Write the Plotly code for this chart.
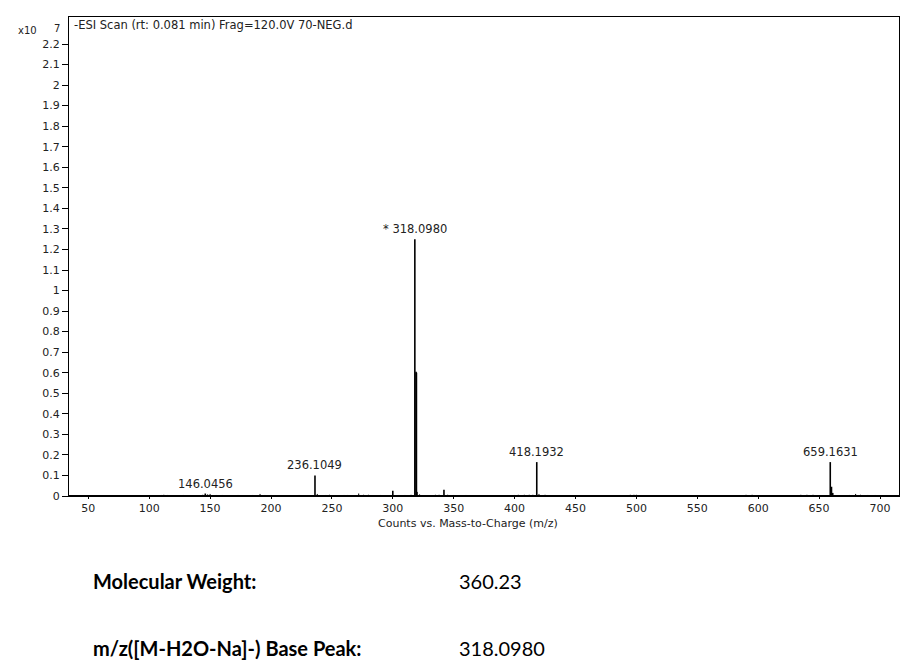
import plotly.graph_objects as go

# ---- data (m/z, intensity in units of 1e7 counts) ----
major_mz = [146.0456, 236.1049, 318.0980, 319.10, 319.4, 418.1932, 659.1631, 660.17, 342.0, 300.0, 661.2]
major_int = [0.012, 0.100, 1.250, 0.605, 0.600, 0.165, 0.165, 0.045, 0.030, 0.025, 0.015]

noise_mz = [58, 62, 66, 70, 80, 110, 112, 115, 128, 133, 137, 144, 148, 150, 155, 160, 165,
            170, 173, 178, 185, 191, 195, 200, 210, 219, 223, 238, 245, 248, 260, 263, 272,
            276, 280, 290, 305, 310, 315, 320.1, 322, 335, 338, 345, 350, 360, 370, 378, 390,
            400, 403, 408, 412, 415, 420, 425, 430, 437, 448, 475, 480, 490, 495, 498, 500,
            510, 515, 520, 590, 595, 635, 640, 645, 675, 680, 684, 690, 696, 700]
noise_int = [0.004, 0.004, 0.004, 0.004, 0.004, 0.005, 0.006, 0.005, 0.005, 0.004, 0.004, 0.006,
             0.008, 0.010, 0.005, 0.005, 0.004, 0.004, 0.005, 0.004, 0.005, 0.010, 0.005, 0.005,
             0.004, 0.004, 0.005, 0.010, 0.005, 0.006, 0.005, 0.005, 0.012, 0.006, 0.006, 0.005,
             0.005, 0.005, 0.006, 0.020, 0.008, 0.006, 0.006, 0.006, 0.005, 0.005, 0.004, 0.004,
             0.004, 0.005, 0.006, 0.006, 0.006, 0.006, 0.010, 0.006, 0.004, 0.004, 0.004, 0.004,
             0.004, 0.004, 0.006, 0.006, 0.006, 0.004, 0.004, 0.004, 0.006, 0.006, 0.006, 0.006,
             0.006, 0.005, 0.010, 0.006, 0.005, 0.005, 0.004]

label_mz = [146.0456, 236.1049, 318.0980, 418.1932, 659.1631]
label_int = [0.012, 0.100, 1.250, 0.165, 0.165]
label_txt = ["146.0456", "236.1049", "* 318.0980", "418.1932", "659.1631"]

xtick_vals = [50, 100, 150, 200, 250, 300, 350, 400, 450, 500, 550, 600, 650, 700]
ytick_vals = [round(i * 0.1, 1) for i in range(23)]
ytick_txt = ["0" if v == 0 else ("%g" % v) for v in ytick_vals]

info_labels = ["Molecular Weight:", "m/z([M-H2O-Na]-) Base Peak:"]
info_values = ["360.23", "318.0980"]

# ---- layout geometry (pixels) ----
W, H = 917, 669
L, R, T, B = 69, 18, 17, 173
pw, ph = W - L - R, H - T - B


def px(xp):
    return (xp - L) / pw


def py(yp):
    return (H - B - yp) / ph


def stems(mzs, ints):
    xs, ys = [], []
    for m, v in zip(mzs, ints):
        xs += [m, m, None]
        ys += [0, v, None]
    return xs, ys


fig = go.Figure()
nx, ny = stems(noise_mz, noise_int)
fig.add_trace(go.Scatter(x=nx, y=ny, mode="lines", line=dict(color="black", width=1),
                         hoverinfo="skip", showlegend=False))
mx, my = stems(major_mz, major_int)
fig.add_trace(go.Scatter(x=mx, y=my, mode="lines", line=dict(color="black", width=1.6),
                         hoverinfo="skip", showlegend=False))

FAM = "DejaVu Sans, Liberation Sans, Arial"
font_chart = dict(family=FAM, size=11, color="#222")

for m, v, t in zip(label_mz, label_int, label_txt):
    fig.add_annotation(x=m, y=v, text=t, showarrow=False, yanchor="bottom", xanchor="center",
                       yshift=1, font=dict(family=FAM, size=11.5, color="#222"))

fig.add_annotation(xref="paper", yref="paper", x=px(72), y=py(25), text="-ESI Scan (rt: 0.081 min) Frag=120.0V 70-NEG.d",
                   showarrow=False, xanchor="left", yanchor="middle", font=dict(family=FAM, size=11.5, color="#222"))
fig.add_annotation(xref="paper", yref="paper", x=px(39), y=py(30), text="x10",
                   showarrow=False, xanchor="right", yanchor="middle", font=dict(family=FAM, size=10, color="#222"))
fig.add_annotation(xref="paper", yref="paper", x=px(57), y=py(28), text="7",
                   showarrow=False, xanchor="center", yanchor="middle", font=dict(family=FAM, size=10, color="#222"))
fig.add_annotation(xref="paper", yref="paper", x=px(468), y=py(523), text="Counts vs. Mass-to-Charge (m/z)",
                   showarrow=False, xanchor="center", yanchor="middle", font=dict(family=FAM, size=11, color="#222"))

for i, (lab, val) in enumerate(zip(info_labels, info_values)):
    yp = 581 + i * 67
    fig.add_annotation(xref="paper", yref="paper", x=px(91), y=py(yp), text="<b>%s</b>" % lab,
                       showarrow=False, xanchor="left", yanchor="middle",
                       font=dict(family="Lato, Open Sans", size=20, color="black"))
    fig.add_annotation(xref="paper", yref="paper", x=px(457), y=py(yp), text=val,
                       showarrow=False, xanchor="left", yanchor="middle",
                       font=dict(family="Lato, Open Sans", size=20, color="black"))

xs = (880 - 88.3) / 650
xr0 = 50 - (88.3 - L) / xs
xr1 = 700 + (W - R - 880) / xs
yr1 = (H - B - T) / ((496 - 44) / 2.2)

fig.update_layout(
    width=W, height=H,
    margin=dict(l=L, r=R, t=T, b=B, pad=0),
    paper_bgcolor="white", plot_bgcolor="white",
    xaxis=dict(range=[xr0, xr1], tickvals=xtick_vals, ticks="outside", ticklen=2, tickwidth=1,
               tickcolor="black", showgrid=False, zeroline=False, showline=True, linecolor="black",
               linewidth=1, mirror=True, tickfont=font_chart),
    yaxis=dict(range=[0, yr1], tickvals=ytick_vals, ticktext=ytick_txt, ticks="outside", ticklen=6,
               tickwidth=1, tickcolor="black", showgrid=False, zeroline=False, showline=True,
               linecolor="black", linewidth=1, mirror=True, tickfont=font_chart),
    shapes=[dict(type="line", xref="paper", yref="y", x0=0, x1=1, y0=0, y1=0,
                 line=dict(color="black", width=2))],
)

fig.write_html("out.html")
